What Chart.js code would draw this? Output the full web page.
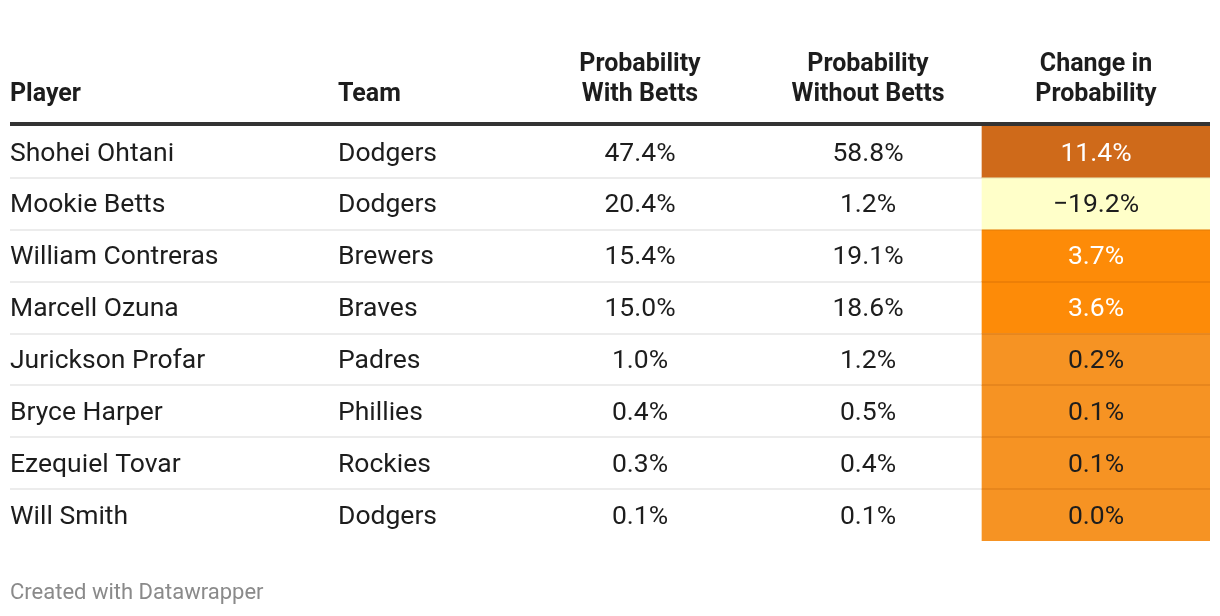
<!DOCTYPE html>
<html>
<head>
<meta charset="utf-8">
<script src="https://cdn.jsdelivr.net/npm/chart.js@4"></script>
<style>
  html, body { margin: 0; padding: 0; background: #fff; }
  #wrap { position: relative; width: 1220px; height: 616px; }
</style>
</head>
<body>
<div id="wrap"><canvas id="tbl" width="1220" height="616"></canvas></div>
<script>
// ---- data ----
const players = ['Shohei Ohtani','Mookie Betts','William Contreras','Marcell Ozuna','Jurickson Profar','Bryce Harper','Ezequiel Tovar','Will Smith'];
const teams = ['Dodgers','Dodgers','Brewers','Braves','Padres','Phillies','Rockies','Dodgers'];
const withBetts = [47.4, 20.4, 15.4, 15.0, 1.0, 0.4, 0.3, 0.1];
const withoutBetts = [58.8, 1.2, 19.1, 18.6, 1.2, 0.5, 0.4, 0.1];
const changeProb = [11.4, -19.2, 3.7, 3.6, 0.2, 0.1, 0.1, 0.0];
const headers = [['Player'], ['Team'], ['Probability','With Betts'], ['Probability','Without Betts'], ['Change in','Probability']];
const footer = 'Created with Datawrapper';

// ---- layout (column edges in x-scale units) ----
const colEdges = [0, 328, 516, 744, 972, 1200];
const FONT = 'Roboto, "Noto Sans", sans-serif';

// stepped colour scale for the change column
function cellColor(v) {
  if (v < 0) return '#ffffc9';
  if (v >= 8) return '#cf6a1a';
  if (v >= 1) return '#fd8b08';
  return '#f69323';
}
function cellText(v) {
  if (v < 0) return '#1d1d1d';
  if (v >= 1) return '#ffffff';
  return '#1d1d1d';
}
const fmt = v => (v < 0 ? '\u2212' + Math.abs(v).toFixed(1) : v.toFixed(1)) + '%';

const tablePlugin = {
  id: 'tablePlugin',
  beforeDatasetsDraw(chart) {
    const { ctx, scales: { x, y }, chartArea } = chart;
    ctx.save();
    // row separators
    players.forEach((p, i) => {
      if (i === 0) return;
      const yb = (y.getPixelForValue(i - 1) + y.getPixelForValue(i)) / 2;
      ctx.fillStyle = '#ececec';
      ctx.fillRect(chartArea.left, Math.round(yb) - 1, chartArea.right - chartArea.left, 2);
    });
    ctx.restore();
  },
  afterDatasetsDraw(chart) {
    const { ctx, scales: { x, y }, chartArea } = chart;
    ctx.save();
    const cx = k => (x.getPixelForValue(colEdges[k]) + x.getPixelForValue(colEdges[k + 1])) / 2;
    const c4l = x.getPixelForValue(colEdges[4]);
    // separators inside the coloured column
    players.forEach((p, i) => {
      if (i === 0) return;
      const yb = (y.getPixelForValue(i - 1) + y.getPixelForValue(i)) / 2;
      ctx.fillStyle = changeProb[i] < 0 || changeProb[i - 1] < 0 ? 'rgba(0,0,0,0.05)' : 'rgba(150,60,0,0.15)';
      ctx.fillRect(c4l, Math.round(yb) - 1, chartArea.right - c4l, 2);
    });
    // header rule
    ctx.fillStyle = '#333333';
    ctx.fillRect(chartArea.left, chartArea.top - 4, chartArea.right - chartArea.left, 4);
    // header text
    ctx.fillStyle = '#1d1d1d';
    ctx.font = 'bold 25px ' + FONT;
    ctx.textBaseline = 'middle';
    headers.forEach((h, k) => {
      const lines = h.length;
      h.forEach((t, j) => {
        const yy = 95 - (lines - 1 - j) * 30;
        if (k < 2) { ctx.textAlign = 'left'; ctx.fillText(t, x.getPixelForValue(colEdges[k]), yy); }
        else { ctx.textAlign = 'center'; ctx.fillText(t, cx(k), yy); }
      });
    });
    // body text
    ctx.font = '26.5px ' + FONT;
    players.forEach((p, i) => {
      const yy = y.getPixelForValue(i) + 2;
      ctx.fillStyle = '#1d1d1d';
      ctx.textAlign = 'left';
      ctx.fillText(p, x.getPixelForValue(colEdges[0]), yy);
      ctx.fillText(teams[i], x.getPixelForValue(colEdges[1]), yy);
      ctx.textAlign = 'center';
      ctx.fillText(withBetts[i].toFixed(1) + '%', cx(2), yy);
      ctx.fillText(withoutBetts[i].toFixed(1) + '%', cx(3), yy);
      ctx.fillStyle = cellText(changeProb[i]);
      ctx.fillText(fmt(changeProb[i]), cx(4), yy);
    });
    // footer
    ctx.fillStyle = '#8a8a8a';
    ctx.font = '22px ' + FONT;
    ctx.textAlign = 'left';
    ctx.fillText(footer, chartArea.left, 593);
    ctx.restore();
  }
};

new Chart(document.getElementById('tbl').getContext('2d'), {
  type: 'bar',
  data: {
    labels: players,
    datasets: [{
      data: changeProb.map(() => [colEdges[4], colEdges[5]]),
      backgroundColor: changeProb.map(cellColor),
      borderWidth: 0,
      barPercentage: 1,
      categoryPercentage: 1
    }]
  },
  options: {
    indexAxis: 'y',
    responsive: false,
    animation: false,
    layout: { padding: { left: 10, right: 10, top: 126, bottom: 75 } },
    plugins: { legend: { display: false }, tooltip: { enabled: false } },
    scales: {
      x: { type: 'linear', min: colEdges[0], max: colEdges[colEdges.length - 1], display: false },
      y: { type: 'category', offset: true, display: false }
    }
  },
  plugins: [tablePlugin]
});
</script>
</body>
</html>
